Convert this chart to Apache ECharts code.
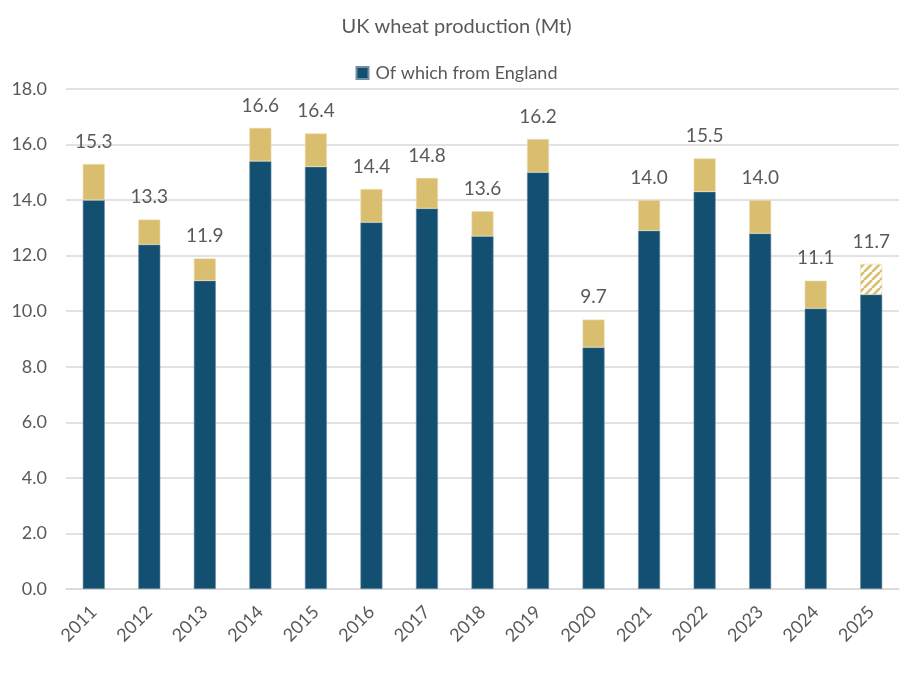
<!DOCTYPE html>
<html>
<head>
<meta charset="utf-8">
<script src="https://cdn.jsdelivr.net/npm/echarts@6/dist/echarts.min.js"></script>
<style>
  html, body { margin: 0; padding: 0; background: #fff; }
  #chart { width: 913px; height: 690px; }
</style>
</head>
<body>
<div id="chart"></div>
<script>
var years = ["2011", "2012", "2013", "2014", "2015", "2016", "2017", "2018",
  "2019", "2020", "2021", "2022", "2023", "2024", "2025"];
var ukTotal = [15.3, 13.3, 11.9, 16.6, 16.4, 14.4, 14.8, 13.6, 16.2, 9.7, 14.0, 15.5, 14.0, 11.1, 11.7];
var england = [14.0, 12.4, 11.1, 15.4, 15.2, 13.2, 13.7, 12.7, 15.0, 8.7, 12.9, 14.3, 12.8, 10.1, 10.6];
var forecastYear = "2025";

var blue = "#134F70";
var gold = "#D8BE6E";
var textColor = "#595959";
var font = "Lato";

// diagonal hatch for the forecast year
function hatch() {
  var c = document.createElement("canvas");
  c.width = 8; c.height = 8;
  var ctx = c.getContext("2d");
  ctx.fillStyle = "#fff";
  ctx.fillRect(0, 0, 8, 8);
  ctx.strokeStyle = gold;
  ctx.lineWidth = 2.6;
  ctx.beginPath();
  for (var k = -8; k <= 16; k += 8) {
    ctx.moveTo(k, 8);
    ctx.lineTo(k + 8, 0);
  }
  ctx.stroke();
  return c;
}
var pattern = { image: hatch(), repeat: "repeat" };

var restData = years.map(function (y, i) {
  var v = +(ukTotal[i] - england[i]).toFixed(2);
  if (y === forecastYear) {
    return { value: v, itemStyle: { color: pattern } };
  }
  return v;
});

var chart = echarts.init(document.getElementById("chart"));
chart.setOption({
  animation: false,
  textStyle: { fontFamily: font },
  title: {
    text: "UK wheat production (Mt)",
    left: "center",
    top: 12,
    textStyle: { color: textColor, fontSize: 20, fontWeight: "normal", fontFamily: font }
  },
  legend: {
    data: [{ name: "Of which from England", icon: "rect" }],
    top: 59,
    left: "center",
    itemWidth: 12,
    itemHeight: 12,
    itemGap: 8,
    textStyle: { color: textColor, fontSize: 18, fontFamily: font, padding: [0, 0, 0, 2] }
  },
  grid: { left: 66, right: 14, top: 89, bottom: 101 },
  xAxis: {
    type: "category",
    data: years,
    axisTick: { show: false },
    axisLine: { lineStyle: { color: "#D9D9D9", width: 1.5 } },
    axisLabel: { rotate: 45, color: textColor, fontSize: 18, margin: 20, fontFamily: font }
  },
  yAxis: {
    type: "value",
    min: 0,
    max: 18,
    interval: 2,
    axisLabel: {
      color: textColor, fontSize: 18, margin: 19, fontFamily: font,
      formatter: function (v) { return v.toFixed(1); }
    },
    splitLine: { lineStyle: { color: "#D9D9D9", width: 1.5 } },
    axisLine: { show: false },
    axisTick: { show: false }
  },
  series: [
    {
      name: "Of which from England",
      type: "bar",
      stack: "uk",
      barWidth: 22,
      data: england,
      itemStyle: { color: blue, borderColor: "#6E8FA6", borderWidth: 0.6 }
    },
    {
      name: "Rest of UK",
      type: "bar",
      stack: "uk",
      barWidth: 22,
      data: restData,
      itemStyle: { color: gold, borderColor: "#EEDDB0", borderWidth: 0.6 },
      label: {
        show: true,
        position: "top",
        distance: 13,
        color: textColor,
        fontSize: 19,
        fontFamily: font,
        formatter: function (p) { return ukTotal[p.dataIndex].toFixed(1); }
      }
    }
  ]
});
</script>
</body>
</html>
